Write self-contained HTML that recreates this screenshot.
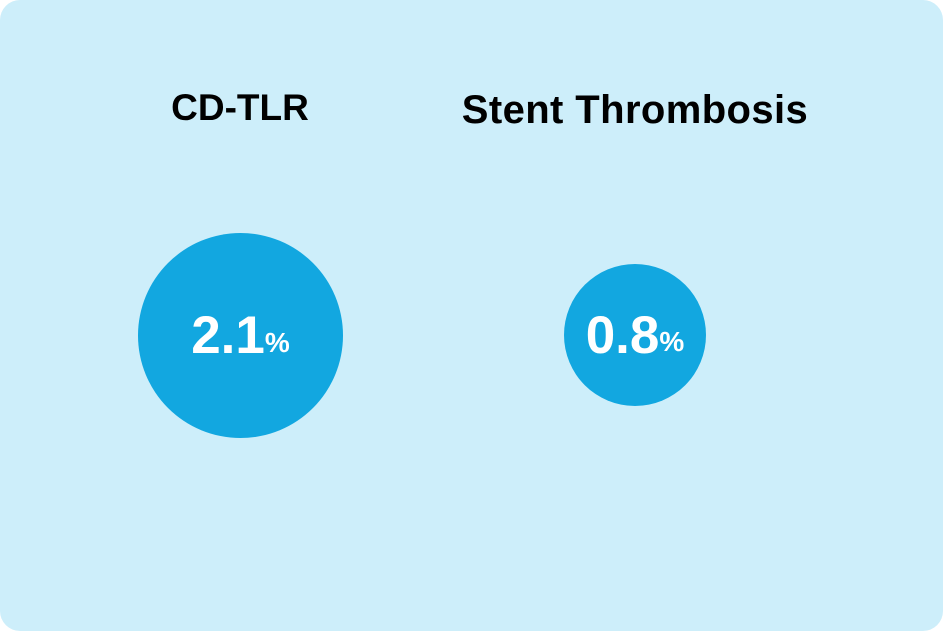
<!DOCTYPE html>
<html><head><style>
html,body{margin:0;padding:0;background:#fff;}
.card{position:absolute;left:0;top:0;width:943px;height:631px;background:#cdeefa;border-radius:20px;font-family:"Liberation Sans",sans-serif;}
.t{position:absolute;font-weight:bold;color:#000;font-size:39px;text-align:center;width:500px;top:86px;}
.c{position:absolute;background:#12a7e0;border-radius:50%;display:flex;align-items:center;justify-content:center;color:#fff;font-weight:bold;}
.c b{font-size:53px;}
.c i{font-style:normal;font-size:28px;margin-top:14px;}
</style></head><body>
<div class="card">
<div class="t" style="left:-10px;font-size:37px;top:87px;">CD-TLR</div>
<div class="t" style="left:385px;top:88px;font-size:40px;letter-spacing:0.4px;">Stent Thrombosis</div>
<div class="c" style="left:138px;top:233px;width:205px;height:205px;"><b>2.1</b><i>%</i></div>
<div class="c" style="left:564px;top:264px;width:142px;height:142px;"><b>0.8</b><i>%</i></div>
</div>
</body></html>
